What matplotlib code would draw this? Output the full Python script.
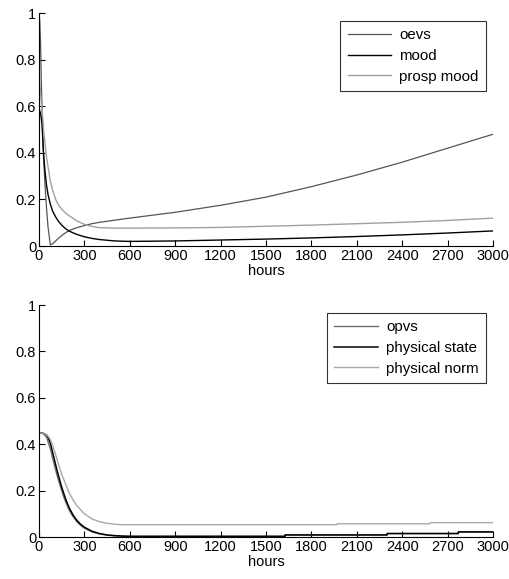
import matplotlib
matplotlib.use('Agg')
import matplotlib.pyplot as plt
import numpy as np

plt.rcParams['font.family'] = ['Liberation Sans', 'DejaVu Sans']
plt.rcParams['font.size'] = 10.5

# top panel
t_top = [0, 5, 10, 15, 20, 25, 30, 40, 50, 60, 75, 90, 110, 130, 150, 175, 200, 250, 300, 350,
         400, 500, 600, 900, 1200, 1500, 1800, 2100, 2400, 2700, 3000]
oevs = [1.0, 0.97, 0.88, 0.72, 0.6, 0.47, 0.38, 0.26, 0.16, 0.08, 0.005, 0.01, 0.022, 0.034, 0.045,
        0.057, 0.067, 0.079, 0.088, 0.096, 0.102, 0.111, 0.12, 0.145, 0.175, 0.21, 0.255, 0.305,
        0.36, 0.42, 0.48]
mood = [0.59, 0.58, 0.57, 0.55, 0.52, 0.46, 0.4, 0.32, 0.26, 0.22, 0.18, 0.15, 0.125, 0.105, 0.09,
        0.075, 0.064, 0.05, 0.04, 0.033, 0.028, 0.022, 0.02, 0.022, 0.026, 0.03, 0.035, 0.041,
        0.048, 0.056, 0.065]
prosp_mood = [0.76, 0.7, 0.66, 0.62, 0.59, 0.55, 0.5, 0.44, 0.38, 0.34, 0.28, 0.24, 0.2, 0.175,
              0.158, 0.142, 0.13, 0.108, 0.093, 0.084, 0.079, 0.077, 0.077, 0.078, 0.08, 0.085,
              0.09, 0.096, 0.102, 0.11, 0.12]

# bottom panel
t_bot = [0, 30, 50, 60, 75, 90, 105, 120, 135, 150, 165, 180, 200, 225, 250, 275, 300, 350, 400,
         450, 500, 550, 600, 1625, 1626, 1970, 2300, 2301, 2585, 2770, 2771, 3000]
opvs = [0.45, 0.445, 0.43, 0.41, 0.38, 0.34, 0.3, 0.265, 0.23, 0.2, 0.17, 0.145, 0.115, 0.088,
        0.066, 0.05, 0.038, 0.022, 0.013, 0.008, 0.005, 0.004, 0.003, 0.003, 0.009, 0.009,
        0.009, 0.015, 0.015, 0.015, 0.022, 0.022]
phys_state = [0.45, 0.447, 0.44, 0.43, 0.405, 0.365, 0.325, 0.285, 0.25, 0.215, 0.185, 0.157,
              0.125, 0.095, 0.072, 0.055, 0.042, 0.025, 0.015, 0.009, 0.006, 0.004, 0.003, 0.003,
              0.009, 0.009, 0.009, 0.015, 0.015, 0.015, 0.022, 0.022]
t_norm = [0, 40, 60, 75, 90, 110, 130, 150, 175, 200, 225, 250, 300, 350, 400, 450, 500, 550,
          1968, 1970, 2584, 2586, 3000]
phys_norm = [0.45, 0.445, 0.435, 0.42, 0.395, 0.355, 0.31, 0.27, 0.23, 0.19, 0.16, 0.135, 0.1,
             0.078, 0.066, 0.059, 0.055, 0.053, 0.053, 0.057, 0.057, 0.062, 0.062]

fig = plt.figure(figsize=(5.09, 5.79), dpi=100)
ax1 = fig.add_axes([0.0766, 0.575, 0.892, 0.4025])
ax2 = fig.add_axes([0.0766, 0.0725, 0.892, 0.4007])

ax1.plot(t_top, oevs, color='#555555', lw=0.9, label='oevs')
ax1.plot(t_top, mood, color='black', lw=1.0, label='mood')
ax1.plot(t_top, prosp_mood, color='#a0a0a0', lw=1.0, label='prosp mood')

ax2.plot(t_bot, opvs, color='#707070', lw=1.0, label='opvs')
ax2.plot(t_bot, phys_state, color='black', lw=1.1, label='physical state')
ax2.plot(t_norm, phys_norm, color='#a8a8a8', lw=1.0, label='physical norm')

for ax in (ax1, ax2):
    ax.set_xlim(0, 3000)
    ax.set_ylim(0, 1)
    ax.set_xticks(np.arange(0, 3001, 300))
    ax.set_yticks([0, 0.2, 0.4, 0.6, 0.8, 1])
    ax.set_yticklabels(['0', '0.2', '0.4', '0.6', '0.8', '1'])
    ax.spines['top'].set_visible(False)
    ax.spines['right'].set_visible(False)
    ax.tick_params(direction='in', length=4, width=0.8, pad=2, labelsize=10.5)
    ax.set_xlabel('hours', labelpad=1, fontsize=10.5)
    leg = ax.legend(loc='upper right', bbox_to_anchor=(0.985, 0.967), frameon=True,
                    fancybox=False, edgecolor='black', handlelength=2.9, handletextpad=0.55,
                    borderaxespad=0, labelspacing=0.45, borderpad=0.5, fontsize=10.8)
    leg.get_frame().set_linewidth(0.8)

fig.savefig('out.png', dpi=100)
